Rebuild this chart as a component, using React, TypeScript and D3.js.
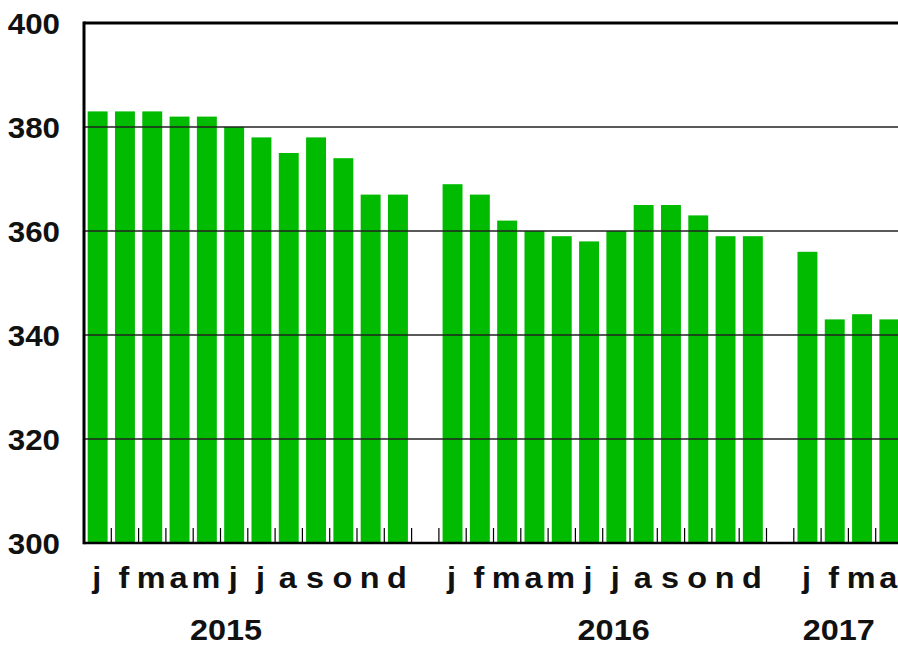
import React from 'react';
import * as d3 from 'd3';

// Monthly values
const monthLetters = ['j', 'f', 'm', 'a', 'm', 'j', 'j', 'a', 's', 'o', 'n', 'd'];
const years = ['2015', '2016', '2017'];
const values2015 = [383, 383, 383, 382, 382, 380, 378, 375, 378, 374, 367, 367];
const values2016 = [369, 367, 362, 360, 359, 358, 360, 365, 365, 363, 359, 359];
const values2017 = [356, 343, 344, 343];
const yTicks = [300, 320, 340, 360, 380, 400];

const W = 898;
const H = 646;

type Slot = { key: string; year: string; month: string | null; value: number | null };

// one slot per month, plus an empty slot between the years
const seriesByYear = [values2015, values2016, values2017];
const slots: Slot[] = [];
years.forEach((yr, yi) => {
  seriesByYear[yi].forEach((v, mi) => {
    slots.push({ key: `${yr}-${mi}`, year: yr, month: monthLetters[mi], value: v });
  });
  if (yi < years.length - 1) slots.push({ key: `gap-${yr}`, year: yr, month: null, value: null });
});

const App = () => {
  const margin = { top: 23, left: 84, bottom: 543 };
  const step = 27.3;
  const plotRight = margin.left + slots.length * step;

  const x = d3.scaleBand<string>()
    .domain(slots.map(s => s.key))
    .range([margin.left, plotRight])
    .paddingInner(0.27)
    .paddingOuter(0.135);

  const y = d3.scaleLinear().domain([300, 400]).range([margin.bottom, margin.top]);

  const font = '"Liberation Sans", Arial, sans-serif';
  const stretch = 'scale(1.08,1)';

  // boundaries between slots, where the small ticks sit
  const boundaries = d3.range(1, slots.length + 1).map(i => margin.left + i * x.step());

  // year label centres, in slots from the first month of each year
  const yearLabelOffset = [5.2, 6.4, 1.65];
  const yearStart = years.map(yr => slots.findIndex(s => s.year === yr));

  return (
    <svg width={W} height={H} style={{ position: 'absolute', left: 0, top: 0, background: 'white' }}>
      {/* bars */}
      {slots.filter(s => s.value !== null).map(s => (
        <rect
          key={s.key}
          x={x(s.key)}
          y={y(s.value as number)}
          width={x.bandwidth()}
          height={margin.bottom - y(s.value as number)}
          fill="#00bb00"
        />
      ))}

      {/* gridlines on top of the bars */}
      {yTicks.filter(t => t > 300 && t < 400).map(t => (
        <line key={t} x1={margin.left} x2={plotRight} y1={y(t)} y2={y(t)} stroke="#222" strokeWidth={1.6} />
      ))}

      {/* frame */}
      <line x1={margin.left} x2={plotRight} y1={y(400)} y2={y(400)} stroke="#000" strokeWidth={3} />
      <line x1={margin.left} x2={plotRight} y1={y(300)} y2={y(300)} stroke="#000" strokeWidth={2.5} />
      <line x1={margin.left} x2={margin.left} y1={y(400) - 1.5} y2={y(300) + 1.2} stroke="#000" strokeWidth={3} />

      {/* inward ticks */}
      {boundaries.map((bx, i) => (
        <line key={i} x1={bx} x2={bx} y1={margin.bottom} y2={margin.bottom - 15} stroke="#000" strokeWidth={1.2} />
      ))}

      {/* y labels */}
      {yTicks.map(t => (
        <text
          key={t}
          transform={`translate(60,${y(t) + 10.5}) ${stretch}`}
          textAnchor="end"
          fontFamily={font}
          fontWeight="bold"
          fontSize={29}
          fill="#111"
        >
          {t}
        </text>
      ))}

      {/* month letters */}
      {slots.filter(s => s.month !== null).map(s => (
        <text
          key={`m-${s.key}`}
          transform={`translate(${(x(s.key) as number) + x.bandwidth() / 2 - 1},588) ${stretch}`}
          textAnchor="middle"
          fontFamily={font}
          fontWeight="bold"
          fontSize={30}
          fill="#111"
        >
          {s.month}
        </text>
      ))}

      {/* year labels */}
      {years.map((yr, i) => (
        <text
          key={yr}
          transform={`translate(${margin.left + (yearStart[i] + yearLabelOffset[i]) * x.step()},640) ${stretch}`}
          textAnchor="middle"
          fontFamily={font}
          fontWeight="bold"
          fontSize={30}
          fill="#111"
        >
          {yr}
        </text>
      ))}
    </svg>
  );
};

export default App;
